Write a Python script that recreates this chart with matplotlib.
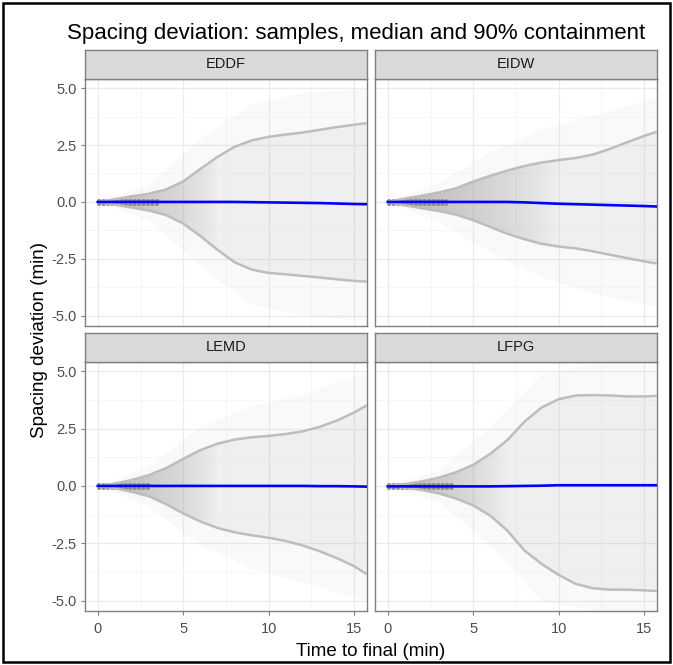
import matplotlib
matplotlib.use("Agg")
import matplotlib.pyplot as plt
import numpy as np
from matplotlib.patches import Rectangle

# ---- data ------------------------------------------------------------------
PANELS = ["EDDF", "EIDW", "LEMD", "LFPG"]
X = [0, 1, 2, 3, 4, 5, 6, 7, 8, 9, 10, 11, 12, 13, 14, 15, 15.7]

EDDF_HI = [0, 0.12, 0.25, 0.36, 0.55, 0.90, 1.45, 1.98, 2.42, 2.70, 2.86, 2.96, 3.05, 3.17, 3.29, 3.39, 3.46]
EDDF_LO = [0, -0.12, -0.25, -0.38, -0.58, -0.95, -1.50, -2.10, -2.65, -2.97, -3.12, -3.18, -3.25, -3.32, -3.40, -3.47, -3.50]
EDDF_MED = [0, 0, 0, 0, 0, 0, 0, 0, 0, -0.01, -0.02, -0.03, -0.04, -0.05, -0.07, -0.09, -0.10]

EIDW_HI = [0, 0.15, 0.27, 0.42, 0.60, 0.90, 1.15, 1.38, 1.58, 1.73, 1.84, 1.93, 2.08, 2.33, 2.62, 2.90, 3.07]
EIDW_LO = [0, -0.15, -0.28, -0.40, -0.56, -0.80, -1.10, -1.40, -1.64, -1.84, -1.96, -2.04, -2.17, -2.32, -2.47, -2.61, -2.70]
EIDW_MED = [0, 0, 0, 0, 0, 0, 0, 0, -0.02, -0.05, -0.08, -0.10, -0.12, -0.14, -0.16, -0.18, -0.20]

LEMD_HI = [0, 0.10, 0.26, 0.47, 0.78, 1.18, 1.56, 1.84, 2.02, 2.12, 2.18, 2.26, 2.38, 2.58, 2.85, 3.20, 3.50]
LEMD_LO = [0, -0.10, -0.26, -0.45, -0.80, -1.20, -1.55, -1.83, -2.02, -2.15, -2.26, -2.40, -2.60, -2.85, -3.15, -3.50, -3.83]
LEMD_MED = [0, 0, 0, 0, 0, 0, 0, 0, 0, 0, 0, 0, 0, -0.01, -0.01, -0.02, -0.03]

LFPG_HI = [0, 0.08, 0.20, 0.36, 0.60, 0.92, 1.40, 2.00, 2.80, 3.42, 3.78, 3.94, 3.96, 3.94, 3.90, 3.90, 3.92]
LFPG_LO = [0, -0.08, -0.18, -0.33, -0.55, -0.85, -1.30, -1.95, -2.82, -3.40, -3.88, -4.27, -4.46, -4.52, -4.52, -4.55, -4.58]
LFPG_MED = [-0.02, -0.02, -0.02, -0.02, -0.02, -0.02, -0.02, -0.01, 0, 0.01, 0.03, 0.03, 0.03, 0.03, 0.03, 0.03, 0.03]

# faint extent of the sample cloud
ENV_X = [0, 3, 6, 9, 12, 15.7]
EDDF_ENV_HI = [0, 0.8, 2.8, 4.3, 4.8, 5.0]
EDDF_ENV_LO = [0, -0.8, -2.8, -4.5, -5.0, -5.2]
EIDW_ENV_HI = [0, 0.9, 2.2, 3.2, 3.8, 4.6]
EIDW_ENV_LO = [0, -0.9, -2.2, -3.3, -4.0, -4.6]
LEMD_ENV_HI = [0, 0.9, 2.6, 3.5, 4.0, 5.0]
LEMD_ENV_LO = [0, -0.9, -2.6, -3.6, -4.2, -5.0]
LFPG_ENV_HI = [0, 0.7, 2.6, 4.9, 5.3, 5.3]
LFPG_ENV_LO = [0, -0.7, -2.6, -5.0, -5.4, -5.4]

# dense early samples (dotted cluster next to the median)
EARLY_END = [3.6, 3.4, 3.0, 3.8]
EARLY_OFF = 0.1
DENSE_END = [7, 10, 7, 7]  # where the overlapping trajectories fade out

HI = [EDDF_HI, EIDW_HI, LEMD_HI, LFPG_HI]
LO = [EDDF_LO, EIDW_LO, LEMD_LO, LFPG_LO]
MED = [EDDF_MED, EIDW_MED, LEMD_MED, LFPG_MED]
ENV_HI = [EDDF_ENV_HI, EIDW_ENV_HI, LEMD_ENV_HI, LFPG_ENV_HI]
ENV_LO = [EDDF_ENV_LO, EIDW_ENV_LO, LEMD_ENV_LO, LFPG_ENV_LO]

Y_TICKS = [-5, -2.5, 0, 2.5, 5]
Y_LABELS = ["-5.0", "-2.5", "0.0", "2.5", "5.0"]
X_TICKS = [0, 5, 10, 15]

# ---- style ------------------------------------------------------------------
plt.rcParams["font.family"] = ["Liberation Sans", "DejaVu Sans"]
TICK_C = "#4D4D4D"; GRID = "#EBEBEB"; BORDER = "#7F7F7F"; STRIP = "#D9D9D9"
QCOL = "#BDBDBD"; MEDCOL = "#0000FF"

W, H = 673, 665
fig = plt.figure(figsize=(W / 100, H / 100), dpi=100)

def fx(px): return px / W
def fy(py): return 1 - py / H

cols = [(85, 367), (375, 657)]
rows = [(79, 326), (362, 611)]
strip_h = 29
XLIM = (-0.75, 15.75); YLIM = (-5.45, 5.4)

for i, name in enumerate(PANELS):
    r, c = divmod(i, 2)
    x0, x1 = cols[c]; y0, y1 = rows[r]
    ax = fig.add_axes([fx(x0), fy(y1), fx(x1 - x0), (y1 - y0) / H])
    ax.set_xlim(*XLIM); ax.set_ylim(*YLIM)
    ax.set_yticks(Y_TICKS); ax.set_yticks([-3.75, -1.25, 1.25, 3.75], minor=True)
    ax.set_xticks(X_TICKS); ax.set_xticks([2.5, 7.5, 12.5], minor=True)
    ax.grid(True, which="major", color=GRID, lw=0.9, zorder=0)
    ax.grid(True, which="minor", color="#F4F4F4", lw=0.5, zorder=0)
    ax.set_axisbelow(True)
    ax.tick_params(which="minor", length=0)
    ax.tick_params(which="major", length=3, color=BORDER, labelsize=10.5,
                   labelcolor=TICK_C, pad=3)
    ax.tick_params(axis="x", pad=5)
    if c == 0:
        ax.set_yticklabels(Y_LABELS)
    else:
        ax.tick_params(axis="y", left=False, labelleft=False)
    if r == 0:
        ax.tick_params(axis="x", bottom=False, labelbottom=False)
    for s in ax.spines.values():
        s.set_color(BORDER); s.set_linewidth(1.0)

    ax.fill_between(ENV_X, ENV_LO[i], ENV_HI[i], color="#D0D0D0", alpha=0.12, lw=0, zorder=1)
    band = ax.fill_between(X, LO[i], HI[i], color="#C0C0C0", alpha=0.17, lw=0, zorder=1)
    # darker cloud where trajectories still overlap: grey fading with time, clipped to the band
    xs = np.linspace(XLIM[0], XLIM[1], 300)
    fade = np.clip(1 - xs / DENSE_END[i], 0, 1) ** 0.8
    rgba = np.zeros((1, xs.size, 4)); rgba[..., :3] = 0.45; rgba[..., 3] = 0.45 * fade
    im = ax.imshow(rgba, extent=(XLIM[0], XLIM[1], YLIM[0], YLIM[1]), aspect="auto",
                   zorder=1, interpolation="bilinear")
    im.set_clip_path(band.get_paths()[0], transform=ax.transData)
    for off in (EARLY_OFF, -EARLY_OFF):
        ax.plot([0, EARLY_END[i]], [off, off], color="#8A8A8A", lw=2.0,
                ls=(0, (0.5, 1.1)), dash_capstyle="round", zorder=2)
    ax.plot(X, HI[i], color=QCOL, lw=1.8, zorder=3, solid_capstyle="round")
    ax.plot(X, LO[i], color=QCOL, lw=1.8, zorder=3, solid_capstyle="round")
    ax.plot(X, MED[i], color=MEDCOL, lw=1.9, zorder=4)

    sax = fig.add_axes([fx(x0), fy(y0), fx(x1 - x0), strip_h / H])
    sax.set_xticks([]); sax.set_yticks([])
    sax.set_facecolor(STRIP)
    for s in sax.spines.values():
        s.set_color(BORDER); s.set_linewidth(1.0)
    sax.text(0.5, 0.5, name, ha="center", va="center", fontsize=10.5, color="#1A1A1A",
             transform=sax.transAxes)

fig.text(fx(67), fy(34), "Spacing deviation: samples, median and 90% containment",
         ha="left", va="center", fontsize=16, color="black")
fig.text(fx(371), fy(651), "Time to final (min)", ha="center", va="center",
         fontsize=13.5, color="black")
fig.text(fx(40), fy(340), "Spacing deviation (min)", ha="center", va="center",
         rotation=90, fontsize=13.5, color="black")

fig.add_artist(Rectangle((fx(3), fy(662)), fx(667), 659 / H, transform=fig.transFigure,
                         fill=False, edgecolor="black", lw=1.8))

fig.savefig("out.png", dpi=100)
